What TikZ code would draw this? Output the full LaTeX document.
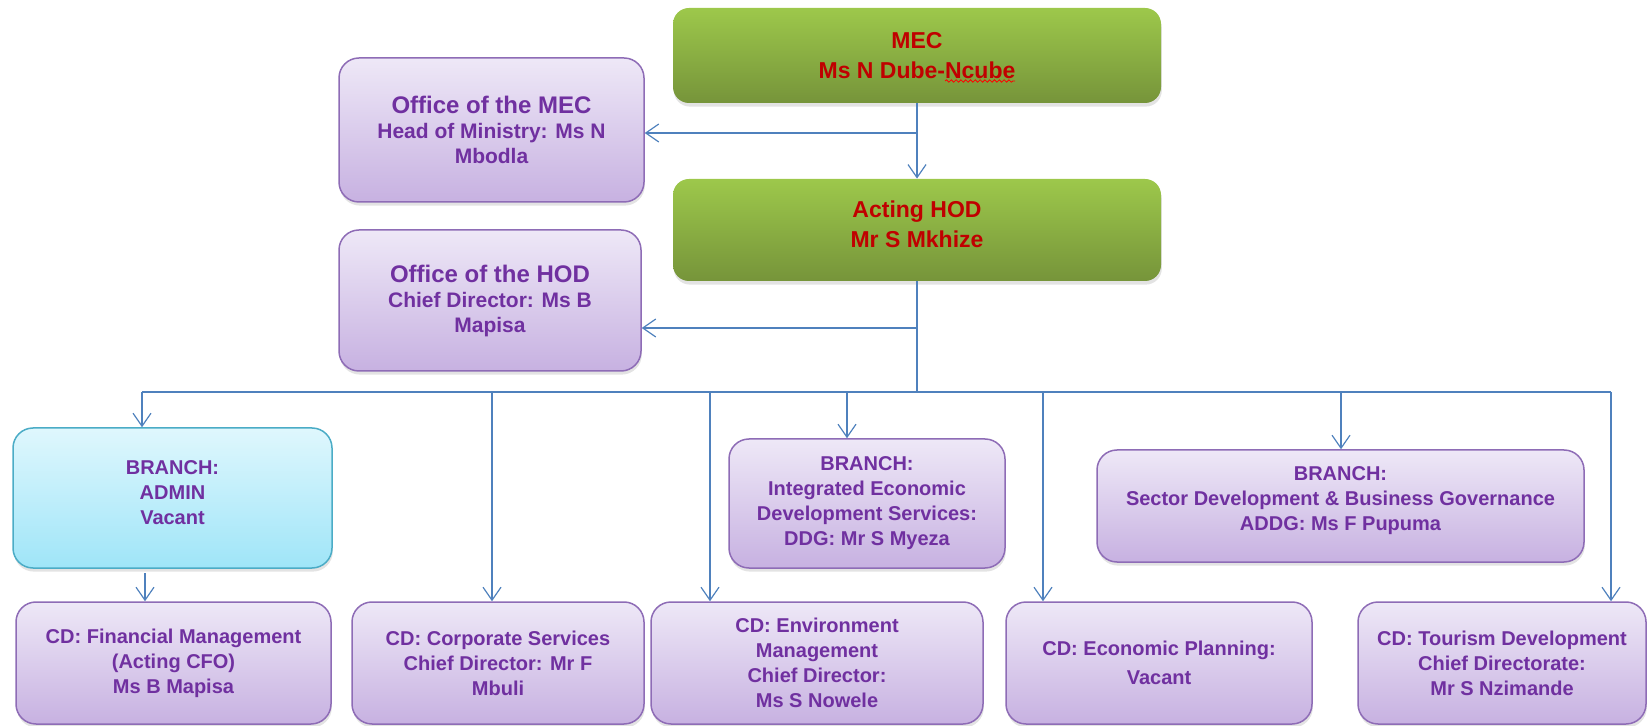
\documentclass[tikz,border=0pt]{standalone}
\usepackage{fontspec}
\setmainfont{Liberation Sans}
\usetikzlibrary{arrows.meta,shadows,decorations.pathmorphing}
\definecolor{orglink}{HTML}{4F81BD}
\definecolor{orgred}{HTML}{C00000}
\definecolor{orgpurple}{HTML}{7030A0}
\definecolor{lavtop}{HTML}{EEE8F7}
\definecolor{lavbot}{HTML}{C7B1E1}
\definecolor{lavrim}{HTML}{8E6CB6}
\definecolor{greentop}{HTML}{9DC84B}
\definecolor{greenbot}{HTML}{76943A}
\definecolor{cyantop}{HTML}{DFF7FD}
\definecolor{cyanbot}{HTML}{9FE5F8}
\definecolor{cyanrim}{HTML}{4BACC6}
\tikzset{
  bossbox/.style  ={rounded corners=8pt,top color=greentop,bottom color=greenbot,draw=none,
                    text=orgred,align=center,inner sep=2pt,
                    font=\fontsize{11.5}{15}\selectfont\bfseries,
                    drop shadow={shadow xshift=0.4pt,shadow yshift=-1.8pt,opacity=0.22}},
  officebox/.style={rounded corners=10pt,top color=lavtop,bottom color=lavbot,draw=lavrim,
                    line width=0.75pt,text=orgpurple,align=center,inner sep=2pt,
                    font=\fontsize{10.5}{12.5}\selectfont\bfseries,
                    drop shadow={shadow xshift=0.4pt,shadow yshift=-1.8pt,opacity=0.22}},
  cdbox/.style    ={officebox,font=\fontsize{10}{12.5}\selectfont\bfseries},
  adminbox/.style ={cdbox,top color=cyantop,bottom color=cyanbot,draw=cyanrim},
  wire/.style     ={draw=orglink,line width=0.6pt},
  feed/.style     ={wire,-{Straight Barb[length=6.5pt,width=9pt]}},
  squiggle/.style ={draw=red,line width=0.4pt,decorate,
                    decoration={snake,amplitude=0.6pt,segment length=2.4pt}}
}
\begin{document}
\begin{tikzpicture}[x=0.5pt,y=-0.5pt]
  \useasboundingbox (0,0) rectangle (1648,726);
  % MEC and HOD
  \node[bossbox,minimum width=244pt,minimum height=47.5pt] (mec) at (917,55.5)
    {MEC\\Ms N Dube-Ncube};
  \draw[squiggle] (945,81) -- (1015,81);
  \node[bossbox,minimum width=244pt,minimum height=51pt] (hod) at (917,230)
    {Acting HOD\\Mr S Mkhize\\[-9.5pt]};
  \node[officebox,minimum width=152.5pt,minimum height=72pt] (offmec) at (491.5,130)
    {{\fontsize{12}{12.5}\selectfont Office of the MEC}\\Head of Ministry: Ms N\\Mbodla};
  \node[officebox,minimum width=151pt,minimum height=70.5pt] (offhod) at (490,300.5)
    {{\fontsize{12}{12.5}\selectfont Office of the HOD}\\Chief Director: Ms B\\Mapisa};

  % branches
  \node[adminbox,minimum width=159.5pt,minimum height=70pt] (admin) at (172.5,498)
    {BRANCH:\\ADMIN\\Vacant\\[-7pt]};
  \node[cdbox,minimum width=138pt,minimum height=64.5pt] (ieds) at (867,503.5)
    {BRANCH:\\Integrated Economic\\Development Services:\\DDG: Mr S Myeza};
  \node[cdbox,minimum width=243.5pt,minimum height=56pt] (sector) at (1340.5,506)
    {BRANCH:\\Sector Development \& Business Governance\\ADDG: Ms F Pupuma\\[-5pt]};

  % chief directorates
  \node[cdbox,minimum width=157.5pt,minimum height=61pt] (cdfin) at (173.5,663)
    {CD: Financial Management\\(Acting CFO)\\Ms B Mapisa};
  \node[cdbox,minimum width=146pt,minimum height=61pt] (cdcorp) at (498,663)
    {CD: Corporate Services\\Chief Director: Mr F\\Mbuli};
  \node[cdbox,minimum width=166pt,minimum height=61pt] (cdenv) at (817,663)
    {CD: Environment\\Management\\Chief Director:\\Ms S Nowele};
  \node[cdbox,minimum width=153pt,minimum height=61pt] (cdecon) at (1159,663)
    {CD: Economic Planning:\\[2pt]Vacant};
  \node[cdbox,minimum width=144pt,minimum height=61pt] (cdtour) at (1502,663)
    {CD: Tourism Development\\Chief Directorate:\\Mr S Nzimande};

  % lines
  \draw[feed] (mec) -- (hod);
  \coordinate (mecjoin) at (917,133);
  \draw[feed] (mecjoin) -- (offmec.east |- mecjoin);
  \coordinate (hodjoin) at (917,328);
  \coordinate (bus) at (917,392);
  \draw[wire] (hod.south) -- (bus);
  \draw[feed] (hodjoin) -- (offhod.east |- hodjoin);
  \coordinate (busleft) at (142,392);
  \coordinate (busright) at (1611,392);
  \draw[wire] (busleft) -- (busright);
  \foreach \dx/\target in {142/admin,492/cdcorp,710/cdenv,847/ieds,1043/cdecon,1341/sector,1611/cdtour}{
    \coordinate (drop) at (\dx,392);
    \draw[feed] (drop) -- (drop |- \target.north);
  }
  \coordinate (adminfoot) at (145,573);
  \draw[feed] (adminfoot) -- (adminfoot |- cdfin.north);
\end{tikzpicture}
\end{document}
